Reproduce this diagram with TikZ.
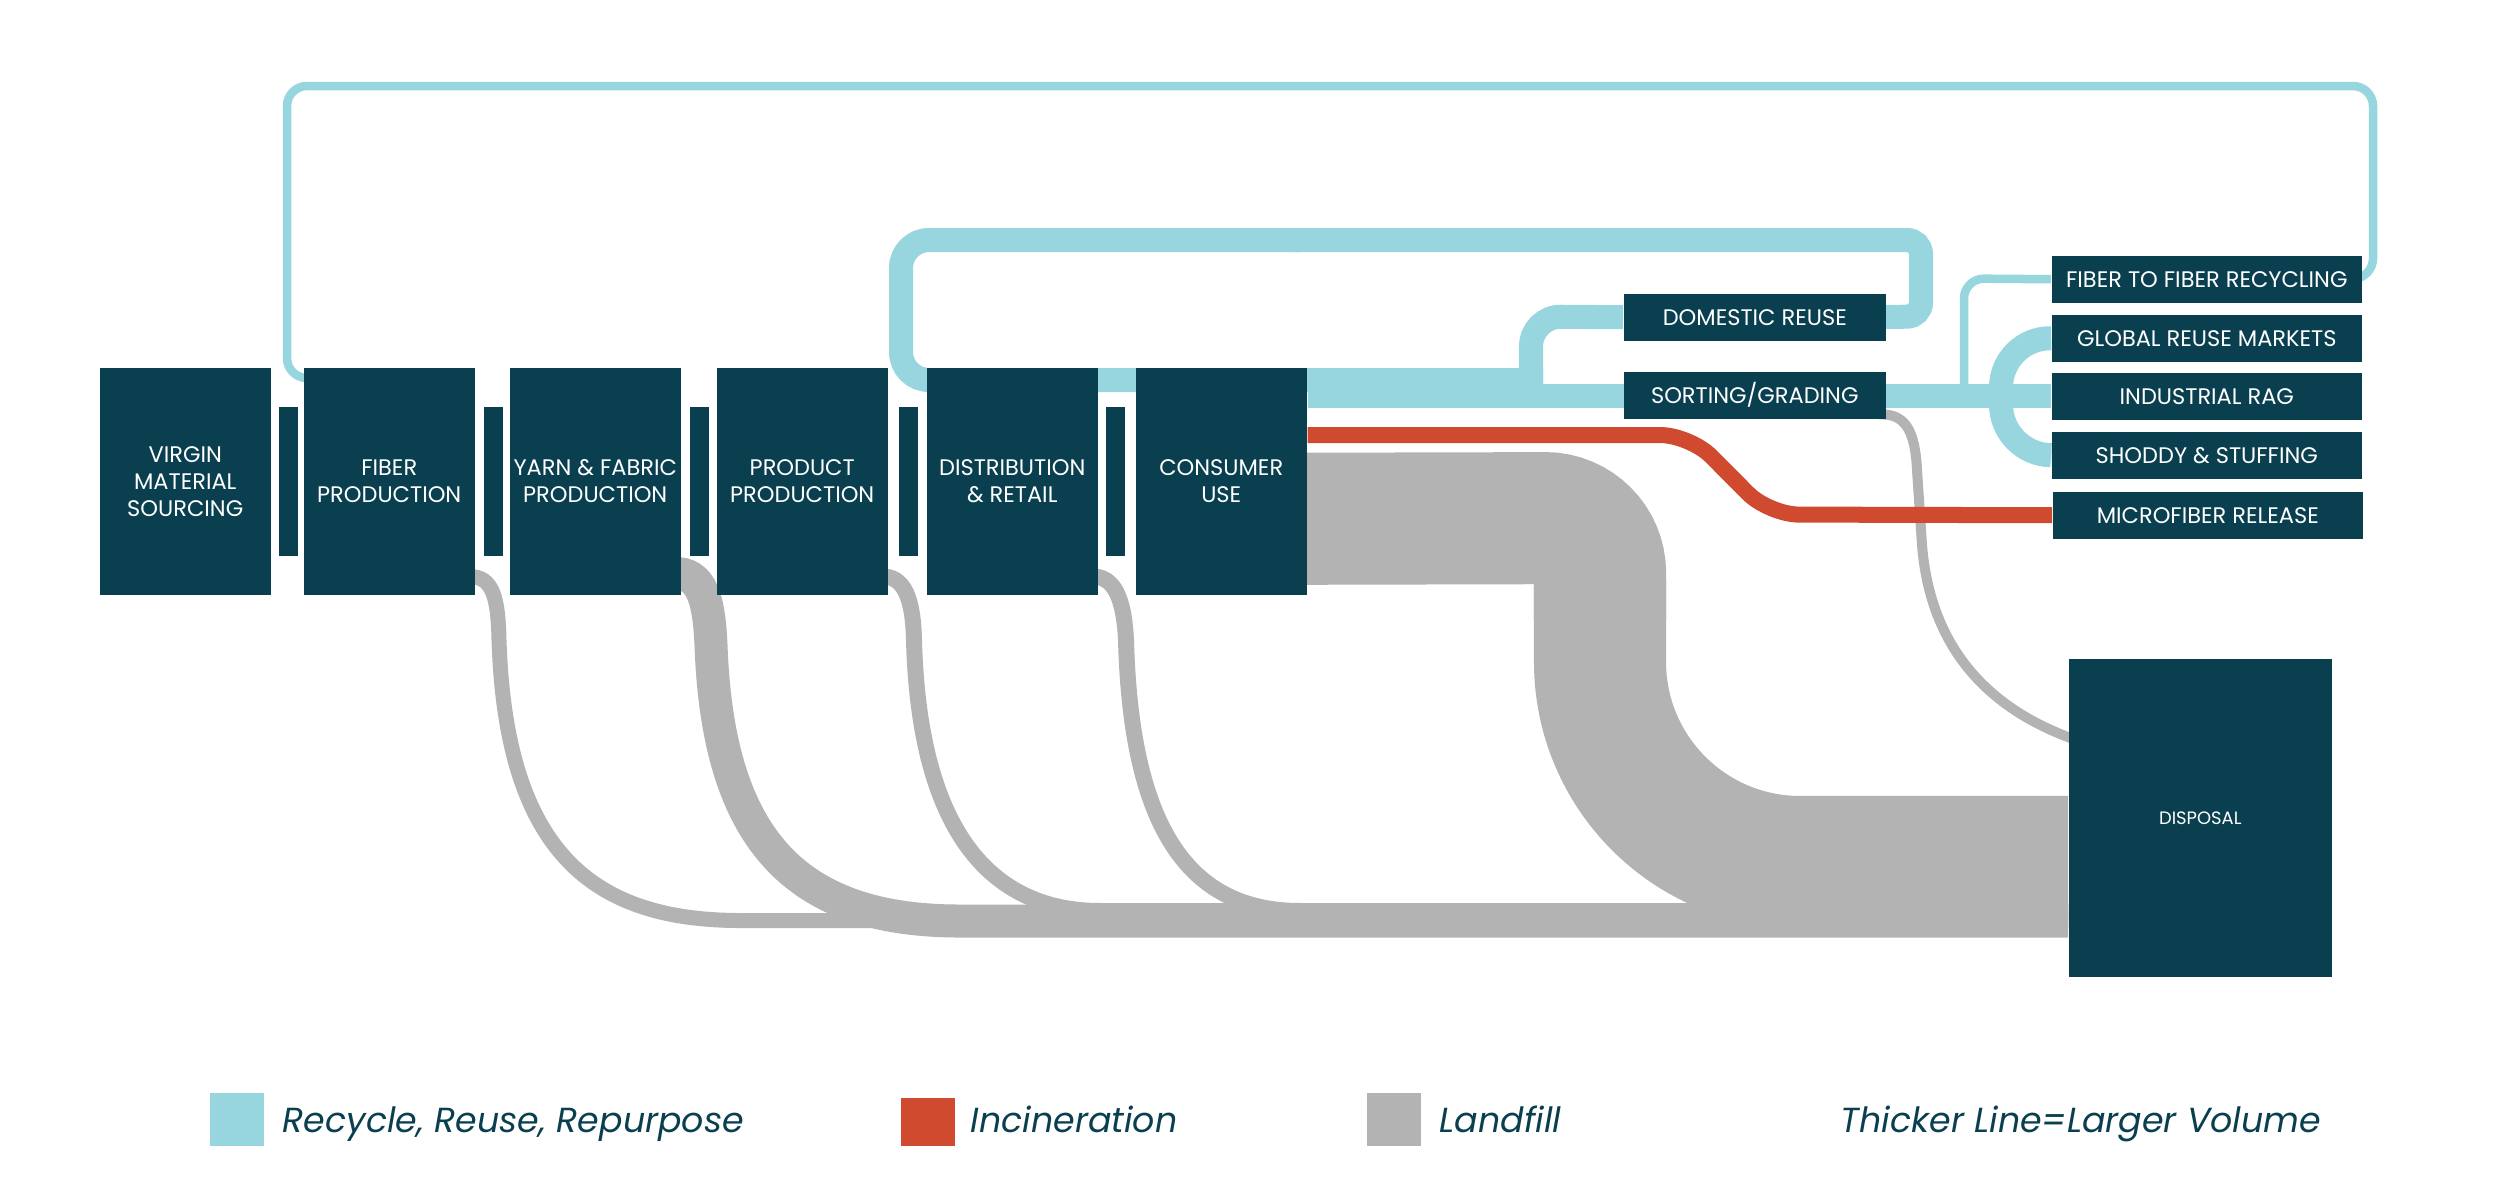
\documentclass[tikz,border=0pt]{standalone}
\usepackage{fontspec}
\setmainfont{Poppins}
\usetikzlibrary{positioning,calc,backgrounds}
\definecolor{navy}{HTML}{0A3F50}
\definecolor{aqua}{HTML}{97D6DF}
\definecolor{brick}{HTML}{CF4A2F}
\definecolor{ash}{HTML}{B3B3B3}
\newcommand{\boxfont}{\fontsize{6.4}{7.7}\selectfont}
\newcommand{\keyfont}{\fontsize{9.9}{12}\selectfont\itshape}
\tikzset{stage/.style={anchor=north west,fill=navy,text=white,font=\boxfont,align=center,inner sep=0pt,minimum width=1.71cm,minimum height=2.27cm},
  outlet/.style={anchor=north west,fill=navy,inner sep=0pt,minimum width=0.19cm,minimum height=1.49cm},
  market/.style={anchor=north west,fill=navy,text=white,font=\boxfont,inner sep=0pt,minimum width=3.10cm,minimum height=0.47cm},
  swatch/.style={anchor=north west,inner sep=0pt,minimum width=0.54cm},
  keytext/.style={anchor=base west,text=navy,font=\keyfont,inner sep=0pt},
  reuse/.style={draw=aqua,line width=0.24cm},
  reusethin/.style={draw=aqua,line width=0.085cm,rounded corners=0.2cm},
  burn/.style={draw=brick,line width=0.16cm,rounded corners=0.3cm},
  landfill/.style={draw=ash}}

\begin{document}
\begin{tikzpicture}[x=0.01cm,y=-0.01cm]
\useasboundingbox (0,0) rectangle (2500,1202);
% life-cycle stages
\node[stage] (virgin) at (99,367) {VIRGIN\\MATERIAL\\SOURCING};
\node[stage] (fiber) at (303,367) {FIBER\\PRODUCTION};
\node[stage] (yarn) at (509,367) {YARN \& FABRIC\\PRODUCTION};
\node[stage] (product) at (716,367) {PRODUCT\\PRODUCTION};
\node[stage] (distrib) at (926,367) {DISTRIBUTION\\\& RETAIL};
\node[stage] (consumer) at (1135,367) {CONSUMER\\USE};
\foreach \x/\n in {278/1,483/2,689/3,898/4,1105/5}
  \node[outlet] (bar\n) at (\x,406) {};
% end-of-use destinations
\node[market,minimum width=2.62cm] (domestic) at (1623,293) {DOMESTIC REUSE};
\node[market,minimum width=2.62cm] (sorting) at (1623,371) {SORTING/GRADING};
\node[market] (ftf) at (2051,255) {FIBER TO FIBER RECYCLING};
\node[market] (globalm) at (2051,314) {GLOBAL REUSE MARKETS};
\node[market] (indrag) at (2051,372) {INDUSTRIAL RAG};
\node[market] (shoddy) at (2051,431) {SHODDY \& STUFFING};
\node[market] (microf) at (2052,491) {MICROFIBER RELEASE};
\node[stage,minimum width=2.63cm,minimum height=3.18cm,font=\fontsize{5.1}{6}\selectfont] (disposal) at (2068,658) {DISPOSAL};

\begin{scope}[on background layer]
\fill[white] (0,0) rectangle (2500,1202);
% recycle, reuse, repurpose
\draw[reusethin] ([xshift=-0.2cm]ftf.east) -- (2373,278.5) -- (2373,86) -- (287,86) -- (287,378) -- ($(fiber.north west)+(20,11)$);
\draw[reuse,rounded corners=0.3cm] (domestic.west) -- (1531,316.5) -- (1531,392);
\draw[reuse,rounded corners=0.28cm] (1543,380) -- (901,380) -- (901,240) -- (1300,240);
\draw[reuse,rounded corners=0.14cm] (1290,240) -- (1921,240) -- (1921,316.5) -- ([xshift=-0.2cm]domestic.east);
\draw[reuse] (consumer.east |- indrag.west) -- (indrag.west);
\draw[reusethin] (1964,395) -- (1964,278.5) -- (ftf.west);
\draw[reuse,rounded corners=0.5cm] (globalm.west) -- (2001,337.5) -- (2001,454.5) -- (shoddy.west);
% landfill
\draw[landfill,line width=0.15cm] ($(fiber.south east)+(-8,-19)$) .. controls (494,575) and (498,600) .. (499,640) .. controls (506,860) and (600,920.5) .. (741,920.5) -- (disposal.west |- 0,920.5);
\draw[landfill,line width=0.33cm] ($(yarn.south east)+(-8,-22)$) .. controls (702,572) and (709,600) .. (711,645) .. controls (718,845) and (800,921) .. (960,921) -- (disposal.west |- 0,921);
\draw[landfill,line width=0.16cm] ($(product.south east)+(-8,-19)$) .. controls (905,575) and (913,600) .. (914,640) .. controls (919,830) and (990,911) .. (1100,911) -- (disposal.west |- 0,911);
\draw[landfill,line width=0.16cm] ($(distrib.south east)+(-8,-19)$) .. controls (1115,575) and (1124,600) .. (1126,640) .. controls (1131,830) and (1190,911) .. (1300,911) -- (disposal.west |- 0,911);
\draw[landfill,line width=1.32cm,rounded corners=0.55cm] ($(consumer.east)+(-10,37.5)$) -- (1600,518) -- (1600,620);
\draw[landfill,line width=1.32cm,rounded corners=2cm] (1600,580) -- (1600,862) -- (disposal.west |- 0,862);
\draw[landfill,line width=0.1cm] ($(sorting.south east)+(-8,-5)$) .. controls (1905,413) and (1915,430) .. (1917,470) -- (1922,545) .. controls (1930,645) and (1985,708) .. ($(disposal.west |- 0,737)+(8,3)$);
% incineration
\draw[burn] (consumer.east |- 0,435) -- (1690,435) -- (1769,514.5) -- (microf.west);
\end{scope}

% legend
\node[swatch,fill=aqua,minimum height=0.53cm] (keyReuse) at (209,1092) {};
\node[keytext] (lblReuse) at (282,1132) {Recycle, Reuse, Repurpose};
\node[swatch,fill=brick,minimum height=0.48cm] (keyBurn) at (900,1097) {};
\node[keytext] (lblBurn) at (970,1132) {Incineration};
\node[swatch,fill=ash,minimum height=0.53cm] (keyLand) at (1366,1092) {};
\node[keytext] (lblLand) at (1439,1132) {Landfill};
\node[keytext] (lblThick) at (1840,1132) {Thicker Line=Larger Volume};
\end{tikzpicture}
\end{document}
